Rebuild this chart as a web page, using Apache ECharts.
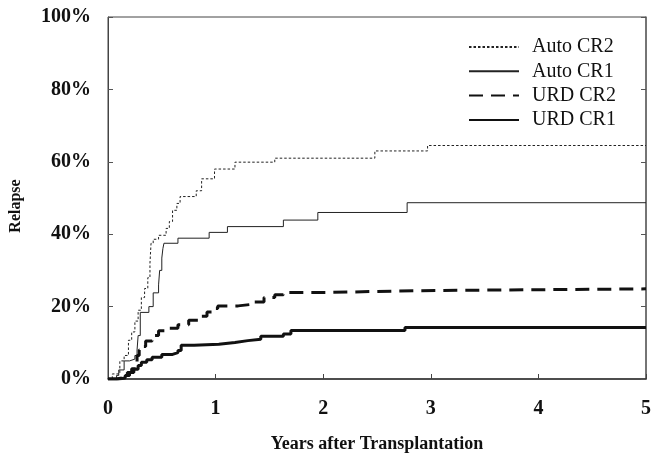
<!DOCTYPE html>
<html>
<head>
<meta charset="utf-8">
<script src="https://cdn.jsdelivr.net/npm/echarts@6/dist/echarts.min.js"></script>
<style>
  html, body { margin: 0; padding: 0; background: #fff; }
  #box { width: 654px; height: 458px; }
</style>
</head>
<body>
<div id="box"></div>
<script>
// years after transplantation / relapse % (step curves)
var autoCR2Years = [0, 0.04, 0.11, 0.15, 0.19, 0.22, 0.25, 0.28, 0.31, 0.34, 0.37, 0.39, 0.40, 0.42, 0.47, 0.54, 0.57, 0.60, 0.64, 0.67, 0.82, 0.87, 0.99, 1.18, 1.55, 2.48, 2.97, 5];
var autoCR2Vals  = [0, 1.4, 5.0, 6.5, 10.7, 13.0, 16.0, 19.0, 22.5, 25.0, 28.0, 32.0, 37.5, 38.6, 39.7, 41.6, 43.5, 46.6, 48.5, 50.4, 52.0, 55.3, 58.0, 59.9, 61.0, 63.0, 64.5, 64.5];

var autoCR1Years = [0, 0.08, 0.10, 0.15, 0.20, 0.25, 0.27, 0.28, 0.30, 0.38, 0.42, 0.47, 0.48, 0.50, 0.51, 0.52, 0.65, 0.94, 1.11, 1.63, 1.95, 2.78, 5];
var autoCR1Vals  = [0, 1.0, 2.5, 5.0, 5.5, 6.5, 8.0, 12.0, 18.4, 20.0, 23.8, 26.0, 30.0, 33.4, 36.0, 37.5, 38.9, 40.5, 42.1, 43.9, 46.0, 48.7, 48.7];

var urdCR2Years = [0, 0.08, 0.13, 0.18, 0.22, 0.25, 0.27, 0.29, 0.31, 0.35, 0.41, 0.47, 0.55, 0.65, 0.75, 0.84, 0.92, 0.98, 1.02, 1.21, 1.33, 1.45, 1.55, 1.63, 2.02, 2.88, 5];
var urdCR2Vals  = [0, 0.3, 0.8, 1.8, 2.8, 4.5, 6.5, 8.0, 9.0, 10.5, 12.0, 13.3, 14.0, 15.0, 16.2, 17.3, 18.5, 19.5, 20.2, 20.6, 21.3, 22.5, 23.3, 23.9, 24.4, 24.9, 24.9];

var urdCR1Years = [0, 0.10, 0.16, 0.20, 0.24, 0.28, 0.31, 0.36, 0.41, 0.50, 0.60, 0.65, 0.68, 0.80, 1.03, 1.18, 1.30, 1.42, 1.63, 1.70, 2.76, 5];
var urdCR1Vals  = [0, 0.3, 1.0, 1.8, 2.7, 3.7, 4.6, 5.3, 6.0, 6.8, 7.3, 7.9, 9.3, 9.6, 10.1, 10.6, 11.0, 11.8, 12.4, 13.4, 14.2, 14.2];

var xTicks = [0, 1, 2, 3, 4, 5];
var yTicks = [0, 20, 40, 60, 80, 100];

function pairs(xs, ys) {
  return xs.map(function (x, i) { return [x, ys[i]]; });
}

var serif = 'Liberation Serif';
var chart = echarts.init(document.getElementById('box'));

function curve(name, xs, ys, width, type, color) {
  return {
    name: name,
    type: 'line',
    step: 'end',
    showSymbol: false,
    symbol: 'none',
    silent: true,
    data: pairs(xs, ys),
    lineStyle: { width: width, type: type, color: color },
    itemStyle: { color: color }
  };
}

var option = {
  animation: false,
  backgroundColor: '#fff',
  grid: {
    left: 106, right: 6, top: 17, bottom: 76,
    show: true, borderColor: '#444', borderWidth: 1
  },
  legend: {
    orient: 'vertical',
    left: 463,
    top: 32,
    itemWidth: 50,
    itemHeight: 12,
    itemGap: 4.3,
    itemStyle: { opacity: 0 },
    data: ['Auto CR2', 'Auto CR1', 'URD CR2', 'URD CR1'],
    textStyle: { fontFamily: serif, fontSize: 20, color: '#111', lineHeight: 20, padding: [0, 0, 0, 8] }
  },
  xAxis: {
    type: 'value',
    min: xTicks[0], max: xTicks[xTicks.length - 1], interval: 1,
    name: 'Years after Transplantation',
    nameLocation: 'middle',
    nameGap: 56,
    nameTextStyle: { fontFamily: serif, fontSize: 18, fontWeight: 'bold', color: '#111' },
    axisLine: { lineStyle: { color: '#333', width: 1.5 } },
    axisTick: { inside: true, length: 5, lineStyle: { color: '#444' } },
    axisLabel: { fontFamily: serif, fontSize: 20, fontWeight: 'bold', color: '#111', margin: 20 },
    splitLine: { show: false }
  },
  yAxis: [{
    type: 'value',
    min: yTicks[0], max: yTicks[yTicks.length - 1], interval: 20,
    name: 'Relapse',
    nameLocation: 'middle',
    nameGap: 84,
    nameRotate: 90,
    nameTextStyle: { fontFamily: serif, fontSize: 16, fontWeight: 'bold', color: '#111', padding: [0, 0, 0, -16] },
    axisLine: { show: true, lineStyle: { color: '#444' } },
    axisTick: { inside: true, length: 5, lineStyle: { color: '#555' } },
    axisLabel: { formatter: '{value}%', fontFamily: serif, fontSize: 20, fontWeight: 'bold', color: '#111', margin: 17 },
    splitLine: { show: false }
  }, {
    type: 'value',
    position: 'right',
    min: yTicks[0], max: yTicks[yTicks.length - 1], interval: 20,
    axisLine: { show: true, lineStyle: { color: '#666', width: 1.5 } },
    axisTick: { inside: true, length: 5, lineStyle: { color: '#555' } },
    axisLabel: { show: false },
    splitLine: { show: false }
  }],
  series: [
    curve('Auto CR2', autoCR2Years, autoCR2Vals, 1, [2.5, 2], '#222'),
    curve('Auto CR1', autoCR1Years, autoCR1Vals, 1, 'solid', '#222'),
    curve('URD CR2', urdCR2Years, urdCR2Vals, 3, [14, 8], '#111'),
    curve('URD CR1', urdCR1Years, urdCR1Vals, 3, 'solid', '#111')
  ]
};

chart.setOption(option);
</script>
</body>
</html>
